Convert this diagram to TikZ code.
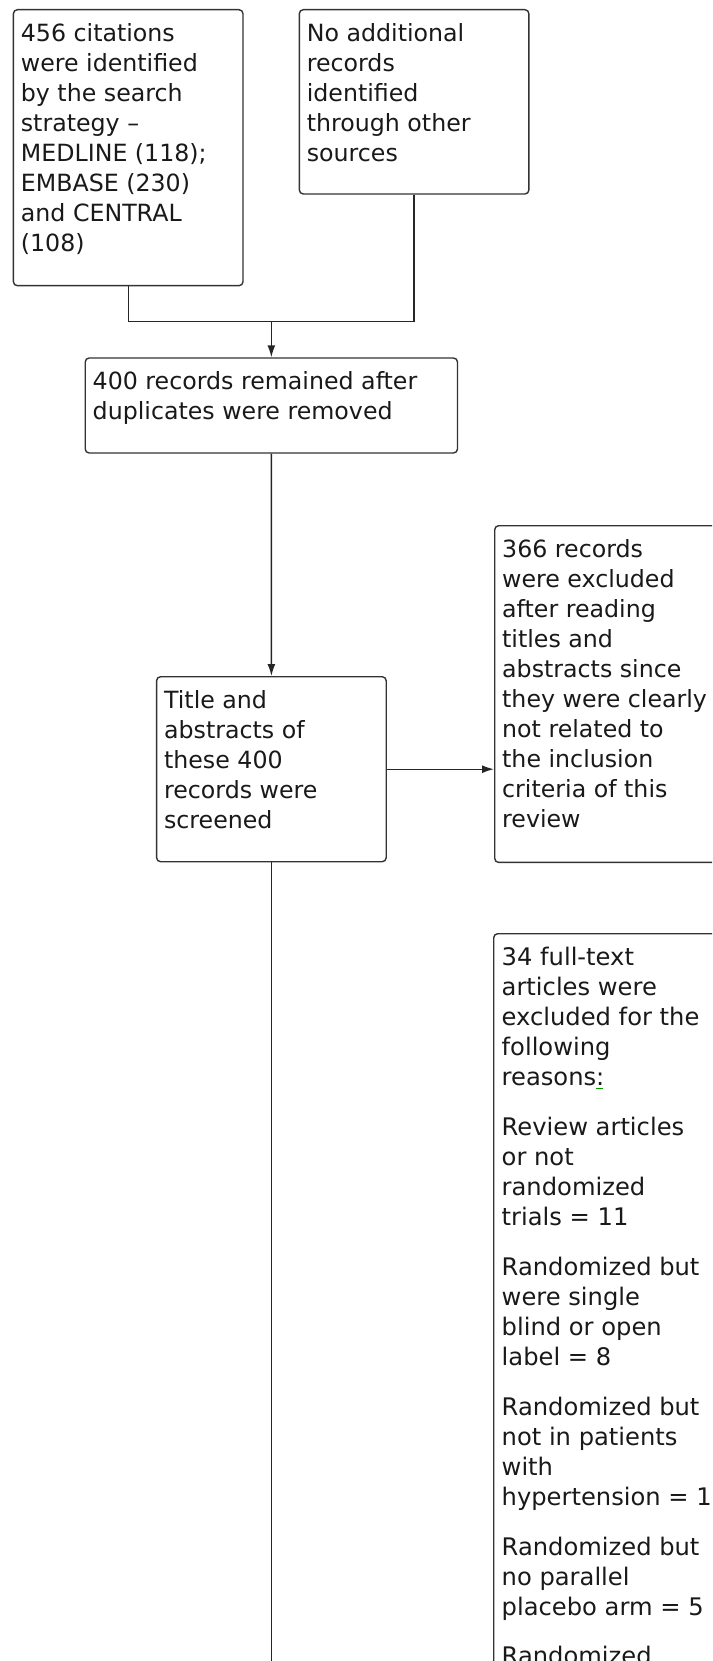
\documentclass[tikz,border=0pt]{standalone}
\usepackage{fontspec}
\setmainfont{DejaVu Sans}
\usetikzlibrary{arrows.meta}
\begin{document}
\begin{tikzpicture}[x=1pt,y=-1pt,
  box/.style={draw=black!80, line width=1.4pt, rounded corners=4pt, inner sep=0pt, anchor=north west},
  txt/.style={anchor=north west, inner sep=0pt, align=left, text=black!90, font=\fontsize{23.7}{30}\selectfont},
  txtb/.style={txt, font=\fontsize{24.2}{30}\selectfont},
  conn/.style={draw=black!85, line width=1.4pt, line join=miter},
  arr/.style={conn, -{Latex[length=12pt,width=8pt]}}]
\useasboundingbox (0,0) rectangle (712,1661);
\clip (0,0) rectangle (712,1661);
% boxes
\node[box, minimum width=229.6pt, minimum height=276pt] (b1) at (12.7,9) {};
\node[box, minimum width=229.6pt, minimum height=184.3pt] (b2) at (298.6,9) {};
\node[box, minimum width=372.3pt, minimum height=95pt] (b3) at (84.5,357.3) {};
\node[box, minimum width=229.6pt, minimum height=185pt] (b4) at (155.9,676) {};
\node[box, minimum width=260pt, minimum height=336.7pt] (b5) at (494,525) {};
\node[box, minimum width=260pt, minimum height=800pt] (b6) at (493,933) {};
% texts
\node[txt] (t1) at ([shift={(8pt,-10pt)}]b1.north west) {\rule{0pt}{22pt}456 citations\\were identified\\by the search\\strategy –\\MEDLINE (118);\\EMBASE (230)\\and CENTRAL\\(108)};
\node[txt] (t2) at ([shift={(8pt,-10pt)}]b2.north west) {\rule{0pt}{22pt}No additional\\records\\identified\\through other\\sources};
\node[txt] (t3) at ([shift={(8pt,-10pt)}]b3.north west) {\rule{0pt}{22pt}400 records remained after\\duplicates were removed};
\node[txt] (t4) at ([shift={(8pt,-10pt)}]b4.north west) {\rule{0pt}{22pt}Title and\\abstracts of\\these 400\\records were\\screened};
\node[txt] (t5) at ([shift={(8pt,-10pt)}]b5.north west) {\rule{0pt}{22pt}366 records\\were excluded\\after reading\\titles and\\abstracts since\\they were clearly\\not related to\\the inclusion\\criteria of this\\review};
\node[txtb] (t6) at ([shift={(8.5pt,-10pt)}]b6.north west) {\rule{0pt}{22pt}34 full-text\\articles were\\excluded for the\\following\\reasons\rlap{\textcolor{green!60!black}{\rule[-4pt]{7pt}{1.2pt}}}:\\[20pt]Review articles\\or not\\randomized\\trials = 11\\[20pt]Randomized but\\were single\\blind or open\\label = 8\\[20pt]Randomized but\\not in patients\\with\\hypertension = 1\\[20pt]Randomized but\\no parallel\\placebo arm = 5\\[19pt]Randomized};
% connectors
\coordinate (j) at (b3.north |- 0,321.7);
\coordinate (end) at (b4.south |- 0,1680);
\draw[conn] (b1.south) |- (j);
\draw[conn] (b2.south) |- (j);
\draw[arr] (j) -- (b3.north);
\draw[arr] (b3.south) -- (b4.north);
\draw[arr] (b4.east) -- (b4.east -| b5.west);
\draw[conn] (b4.south) -- (end);
\end{tikzpicture}
\end{document}
